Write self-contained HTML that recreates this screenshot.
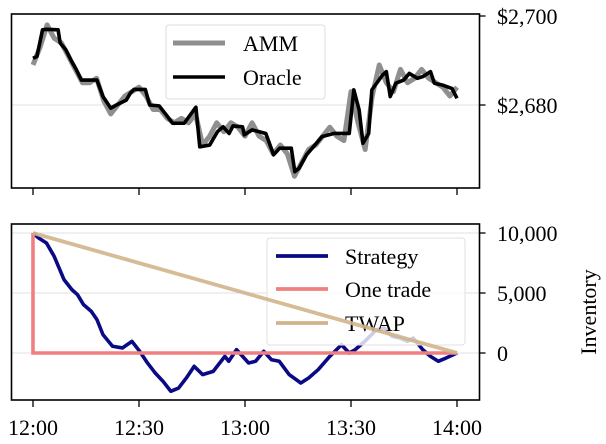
<!DOCTYPE html>
<html><head><meta charset="utf-8"><style>
html,body{margin:0;padding:0;background:#fff;}
svg{display:block;font-family:"Liberation Serif",serif;}
</style></head><body>
<svg id="c" width="606" height="444" viewBox="0 0 606 444"></svg>
<script>
const times=[0,1.1,2.7,3.8,7.1,7.7,9.3,11,12.1,13.7,18.1,19.8,22,23.6,26.4,27.5,28.6,31.8,33,35.7,37.4,39.5,42.8,46.1,47.2,50,52.2,53.8,55.5,56.6,59.3,59.8,62,65.9,68.1,69.8,73.1,74.1,75.3,77.4,80.2,81.8,85.1,89.5,90.8,92.3,93.4,95,95.9,98.9,100,101.1,102.7,104.9,106.5,108.8,110.4,112.5,113.6,115.8,118.6,120];
const oracle=[2690.5,2690.9,2696.9,2697,2696.9,2693.9,2692.4,2689.7,2688.2,2685.6,2685.6,2681.9,2679.3,2680,2681.1,2682.6,2683.5,2683.5,2680,2679.8,2678.1,2675.9,2675.9,2679.5,2670.6,2671,2674,2675.1,2673.6,2675.3,2675.1,2673.3,2674.4,2673.6,2668.8,2670.3,2670.3,2665,2665.8,2668.8,2671.4,2672.9,2673.6,2673.6,2683.4,2678.9,2671.4,2673.6,2683.4,2686.7,2687.5,2681.9,2684.9,2685.6,2687.1,2686,2686.4,2687.5,2684.9,2684.5,2683.7,2681.5];
const ammTimes=[0,2,4,6,8,10,12,14,16,18,20,22,24,26,28,30,32,34,36,38,40,42,44,46,48,50,52,54,56,58,60,62,64,66,68,70,72,74,76,78,80,82,84,86,88,90,92,94,96,98,100,102,104,106,108,110,112,114,116,118,120];
const amm=[2689,2693,2698,2695,2694,2691,2688,2685,2685,2686,2681,2678,2680,2682,2683,2684,2682,2679,2679,2677,2676,2677,2676,2678,2671,2673,2676,2674,2676,2675,2673,2676,2673,2672,2669,2671,2669,2664,2667,2670,2671,2673,2675,2673,2672,2683,2676,2670,2682,2689,2685,2683,2688,2685,2686,2688,2686,2685,2684,2682,2684];
const stratTimes=[0,1.6,3.8,6,8.8,11,12.6,14.3,16.5,18.1,19.8,22.5,25.3,28,30.2,32.4,34.6,36.8,39,41.2,43.4,45.6,48,51,54.3,55.4,57.6,61,63,65.3,67.5,69.7,72.5,75.8,78,80.7,84,87.3,89.5,91.2,93.9,97.2,99.4,101.6,103.8,106,107.6,110.3,112.5,114.7,116.9,120];
const strategy=[10000,9580,9170,8050,6100,5280,4860,4030,3470,2780,1530,560,420,970,140,-830,-1670,-2360,-3190,-2920,-2080,-1110,-1800,-1530,-280,-690,280,-830,-690,140,-560,-690,-1800,-2500,-2080,-1390,-280,690,0,280,970,1940,2080,1390,1250,970,1250,280,-280,-690,-420,0];
const xTickVals=[0,30,60,90,120];
const xTickLabels=["12:00","12:30","13:00","13:30","14:00"];
const priceTicks=[2700,2680];
const priceTickLabels=["$2,700","$2,680"];
const invTicks=[10000,5000,0];
const invTickLabels=["10,000","5,000","0"];

const NS="http://www.w3.org/2000/svg";
const svg=document.getElementById('c');
function mk(t,a,p){const e=document.createElementNS(NS,t);for(const k in a)e.setAttribute(k,a[k]);(p||svg).appendChild(e);return e;}
const X=t=>33+(457-33)*t/120;
const YP=v=>16+(2700-v)*(105-16)/20;
const YI=v=>353-(v*120/10000);
const L=11.5,R=479.5;
const FS=22;

let g=mk('g',{});
let gl=mk('line',{x1:L,x2:R,y1:YP(2680),y2:YP(2680),stroke:'#e2e2e2','stroke-width':1},g);

let p=mk('polyline',{points:ammTimes.map((t,i)=>X(t)+','+YP(amm[i])).join(' '),fill:'none',stroke:'#8f8f8f','stroke-width':5,'stroke-linejoin':'round'},g);

p=mk('polyline',{points:times.map((t,i)=>X(t)+','+YP(oracle[i])).join(' '),fill:'none',stroke:'#000','stroke-width':3.6,'stroke-linejoin':'round'},g);

let f=mk('rect',{x:L,y:14,width:R-L,height:174,fill:'none',stroke:'#000','stroke-width':1.6},g);

priceTicks.forEach((v,i)=>{
  let tk=mk('line',{x1:R,x2:R+6,y1:YP(v),y2:YP(v),stroke:'#000','stroke-width':1.3},g);
  
  let tx=mk('text',{x:497,y:YP(v)+8,'font-size':FS},g);tx.textContent=priceTickLabels[i];
  
});
xTickVals.forEach(v=>{let tk=mk('line',{x1:X(v),x2:X(v),y1:188,y2:195,stroke:'#000','stroke-width':1.3},g);
  });
let lg=mk('g',{},g);
mk('rect',{x:166,y:25,width:159,height:74,rx:3,fill:'rgba(255,255,255,0.85)',stroke:'#dcdcdc','stroke-width':1},lg);
mk('line',{x1:173,x2:225,y1:43,y2:43,stroke:'#8f8f8f','stroke-width':5},lg);
let t1=mk('text',{x:243,y:51,'font-size':FS},lg);t1.textContent='AMM';

mk('line',{x1:173,x2:225,y1:77,y2:77,stroke:'#000','stroke-width':3.6},lg);
t1=mk('text',{x:243,y:85,'font-size':FS},lg);t1.textContent='Oracle';


g=mk('g',{});
invTicks.forEach(v=>{let l=mk('line',{x1:L,x2:R,y1:YI(v),y2:YI(v),stroke:'#e2e2e2','stroke-width':1},g);
  });
p=mk('polyline',{points:stratTimes.map((t,i)=>X(t)+','+YI(strategy[i])).join(' '),fill:'none',stroke:'#0a0a85','stroke-width':3.6,'stroke-linejoin':'round'},g);

p=mk('polyline',{points:[X(0)+','+YI(10000),X(0)+','+YI(0),X(120)+','+YI(0)].join(' '),fill:'none',stroke:'#f08080','stroke-width':3.6},g);

let lg2=mk('g',{},g);
mk('rect',{x:267,y:238,width:198,height:107,rx:3,fill:'rgba(255,255,255,0.8)',stroke:'#e0e0e0','stroke-width':1},lg2);
p=mk('line',{x1:X(0),y1:YI(10000),x2:X(120),y2:YI(0),stroke:'#d2b48c','stroke-width':3.8,'stroke-opacity':0.9},g);

f=mk('rect',{x:L,y:224,width:R-L,height:176,fill:'none',stroke:'#000','stroke-width':1.6},g);

const lgItems=[['Strategy','#0a0a85',256],['One trade','#f08080',289],['TWAP','#d2b48c',323]];
lgItems.forEach(([n,c,y])=>{mk('line',{x1:276,x2:328,y1:y,y2:y,stroke:c,'stroke-width':3.8},lg2);
  let t=mk('text',{x:345,y:y+8,'font-size':FS},lg2);t.textContent=n;
  });
invTicks.forEach((v,i)=>{
  let tk=mk('line',{x1:R,x2:R+6,y1:YI(v),y2:YI(v),stroke:'#000','stroke-width':1.3},g);
  
  let tx=mk('text',{x:497,y:YI(v)+8,'font-size':FS},g);tx.textContent=invTickLabels[i];
  
});
xTickVals.forEach((v,i)=>{
  let tk=mk('line',{x1:X(v),x2:X(v),y1:400,y2:407,stroke:'#000','stroke-width':1.3},g);
  
  let tx=mk('text',{x:X(v),y:435,'font-size':FS,'text-anchor':'middle'},g);tx.textContent=xTickLabels[i];
  
});
let yl=mk('text',{x:0,y:0,'font-size':FS,'text-anchor':'middle',transform:'translate(596,312) rotate(-90)'},g);
yl.textContent='Inventory';

</script>
</body></html>
